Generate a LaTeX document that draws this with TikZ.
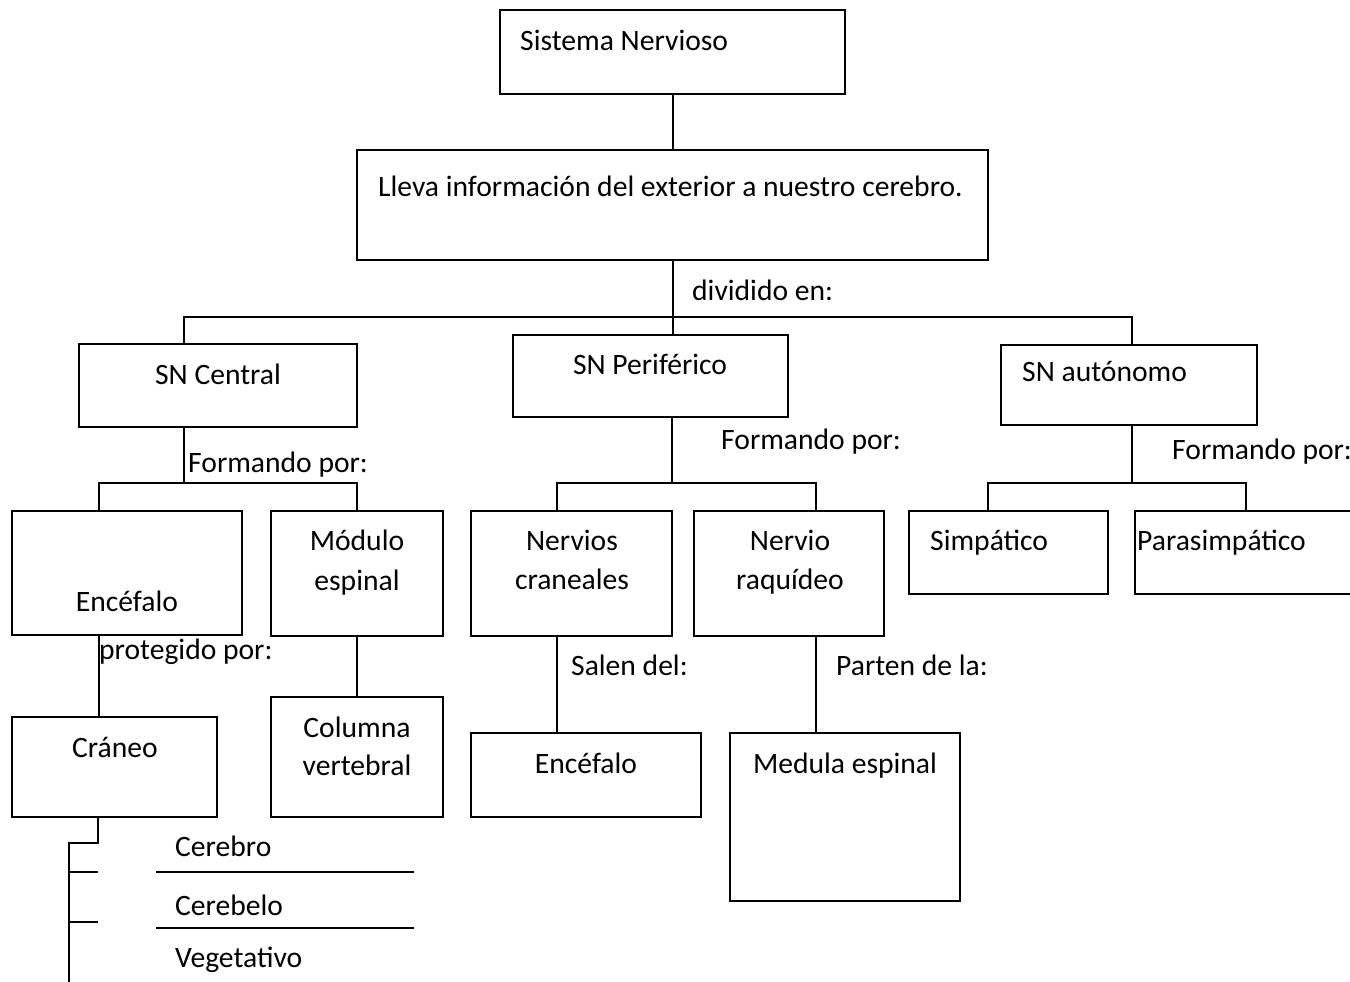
\documentclass[tikz,border=0pt]{standalone}
\usepackage{fontspec}
\setmainfont{Carlito}
\begin{document}
\begin{tikzpicture}[x=1pt,y=-1pt,
  box/.style={draw, line width=2pt, rectangle, inner sep=0pt},
  conn/.style={line width=2pt},
  txt/.style={inner sep=0pt, font=\fontsize{29.6}{35}\selectfont},
  lt/.style={txt, anchor=base west},
  ct/.style={txt, anchor=base}]
\useasboundingbox (0,0) rectangle (1350,982);
% boxes
\node[box, minimum width=345pt, minimum height=84pt] (sn) at (672.5,52) {};
\node[box, minimum width=631pt, minimum height=110pt] (lleva) at (672.5,205) {};
\node[box, minimum width=278pt, minimum height=83pt] (cen) at (218,385.5) {};
\node[box, minimum width=275pt, minimum height=82pt] (per) at (650.5,376) {};
\node[box, minimum width=256pt, minimum height=80pt] (aut) at (1129,385) {};
\node[box, minimum width=230pt, minimum height=124pt] (enc) at (127,573) {};
\node[box, minimum width=172pt, minimum height=125pt] (mod) at (357,573.5) {};
\node[box, minimum width=205pt, minimum height=100pt] (cra) at (114.5,767) {};
\node[box, minimum width=172pt, minimum height=120pt] (col) at (357,757) {};
\node[box, minimum width=201pt, minimum height=125pt] (nc) at (571.5,573.5) {};
\node[box, minimum width=190pt, minimum height=125pt] (nr) at (789,573.5) {};
\node[box, minimum width=230pt, minimum height=84pt] (enc2) at (586,775) {};
\node[box, minimum width=230pt, minimum height=168pt] (med) at (845,817) {};
\node[box, minimum width=199pt, minimum height=83pt] (sim) at (1008.5,552.5) {};
\node[box, minimum width=245pt, minimum height=83pt] (par) at (1257.5,552.5) {};
% texts in boxes
\node[lt] (tsn) at (520,51) {Sistema Nervioso};
\node[lt] (tll) at (378,196) {Lleva información del exterior a nuestro cerebro.};
\node[ct] (tcen) at (218,384) {SN Central};
\node[ct] (tper) at (650,374) {SN Periférico};
\node[lt] (taut) at (1022,381) {SN autónomo};
\node[ct] (tenc) at (127,611) {Encéfalo};
\node[ct] (tmod1) at (357,550) {Módulo};
\node[ct] (tmod2) at (357,590) {espinal};
\node[ct] (tcra) at (115,757) {Cráneo};
\node[ct] (tcol1) at (357,737) {Columna};
\node[ct] (tcol2) at (357,775) {vertebral};
\node[ct] (tnc1) at (572,550) {Nervios};
\node[ct] (tnc2) at (572,589) {craneales};
\node[ct] (tnr1) at (790,550) {Nervio};
\node[ct] (tnr2) at (790,589) {raquídeo};
\node[ct] (tenc2) at (586,773) {Encéfalo};
\node[ct] (tmed) at (845,773) {Medula espinal};
\node[lt] (tsim) at (930,550) {Simpático};
\node[lt] (tpar) at (1137,550) {Parasimpático};
% connector labels
\node[lt] (ldiv) at (692,300) {dividido en:};
\node[lt] (lf1) at (188,472) {Formando por:};
\node[lt] (lf2) at (721,449) {Formando por:};
\node[lt] (lf3) at (1172,459) {Formando por:};
\node[lt] (lprot) at (99,659) {protegido por:};
\node[lt] (lsal) at (571,675) {Salen del:};
\node[lt] (lpar) at (836,675) {Parten de la:};
% list texts
\node[lt] (lcer) at (175,856) {Cerebro};
\node[lt] (lceb) at (175,915) {Cerebelo};
\node[lt] (lveg) at (175,967) {Vegetativo};
% coordinates
\coordinate (m1) at (672.5,317);
\coordinate (bL) at (184,317);
\coordinate (bR) at (1132,317);
\coordinate (c1) at (184,483);
\coordinate (c1L) at (99,483);
\coordinate (c1R) at (357,483);
\coordinate (p1) at (672,483);
\coordinate (p1L) at (557,483);
\coordinate (p1R) at (816,483);
\coordinate (a1) at (1132,483);
\coordinate (a1L) at (988,483);
\coordinate (a1R) at (1246,483);
\coordinate (k0) at (98,817);
\coordinate (k1) at (98,843);
\coordinate (k2) at (69,843);
\coordinate (k3) at (69,982);
\coordinate (t1a) at (69,872);
\coordinate (t1b) at (98,872);
\coordinate (t2a) at (69,922);
\coordinate (t2b) at (98,922);
\coordinate (u1a) at (156,872);
\coordinate (u1b) at (414,872);
\coordinate (u2a) at (156,928);
\coordinate (u2b) at (414,928);
% connectors
\draw[conn] (sn.south) -- (lleva.north);
\draw[conn] (lleva.south) -- (m1) -- (m1 |- per.north);
\draw[conn] (bL |- cen.north) -- (bL) -- (bR) -- (bR |- aut.north);
\draw[conn] (c1 |- cen.south) -- (c1);
\draw[conn] (c1L |- enc.north) -- (c1L) -- (c1R) -- (c1R |- mod.north);
\draw[conn] (p1 |- per.south) -- (p1);
\draw[conn] (p1L |- nc.north) -- (p1L) -- (p1R) -- (p1R |- nr.north);
\draw[conn] (a1 |- aut.south) -- (a1);
\draw[conn] (a1L |- sim.north) -- (a1L) -- (a1R) -- (a1R |- par.north);
\draw[conn] (c1L |- enc.south) -- (c1L |- cra.north);
\draw[conn] (mod.south) -- (col.north);
\draw[conn] (p1L |- nc.south) -- (p1L |- enc2.north);
\draw[conn] (p1R |- nr.south) -- (p1R |- med.north);
\draw[conn] (k0) -- (k1) -- (k2) -- (k3);
\draw[conn] (t1a) -- (t1b);
\draw[conn] (t2a) -- (t2b);
\draw[conn] (u1a) -- (u1b);
\draw[conn] (u2a) -- (u2b);
\end{tikzpicture}
\end{document}
